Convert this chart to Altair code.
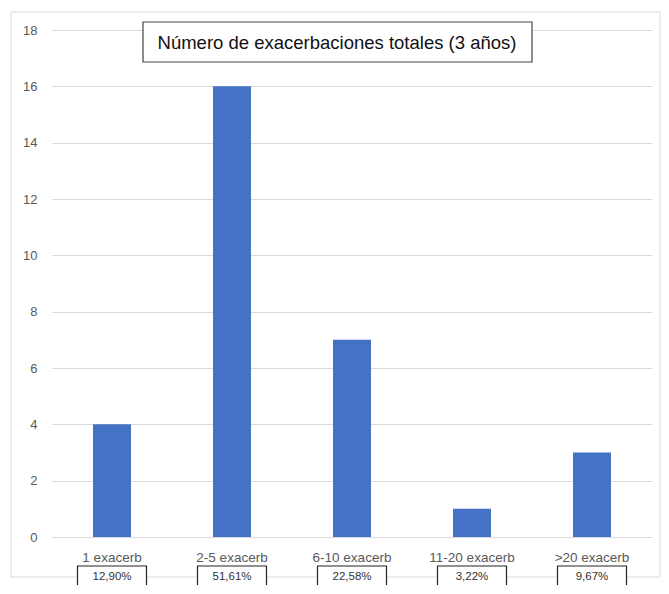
import altair as alt
import pandas as pd

categories = ["1 exacerb", "2-5 exacerb", "6-10 exacerb", "11-20 exacerb", ">20 exacerb"]
counts = [4, 16, 7, 1, 3]
percents = ["12,90%", "51,61%", "22,58%", "3,22%", "9,67%"]
title_text = "Número de exacerbaciones totales (3 años)"

df = pd.DataFrame({"cat": categories, "n": counts, "pct": percents})

FONT = "Liberation Sans"
GREY = "#595959"

x_axis = alt.Axis(labelAngle=0, ticks=False, domain=False, labelPadding=13,
                  labelFontSize=13.5, labelColor=GREY, labelFont=FONT, grid=False,
                  gridOpacity=0)
xenc = alt.X("cat:N", sort=categories, title=None,
             scale=alt.Scale(paddingInner=0, paddingOuter=0), axis=x_axis)

frame = alt.Chart(pd.DataFrame({"a": [0]})).mark_rect(
    filled=False, stroke="#d9d9d9", strokeWidth=1, clip=False
).encode(x=alt.value(-41), x2=alt.value(608), y=alt.value(-18), y2=alt.value(547))

bars = alt.Chart(df).mark_bar(size=38, color="#4472C4").encode(
    x=xenc,
    y=alt.Y("n:Q", title=None,
            scale=alt.Scale(domain=[0, 18]),
            axis=alt.Axis(values=list(range(0, 19, 2)), ticks=False, domain=False,
                          labelPadding=15, labelFontSize=13, labelColor=GREY,
                          labelFont=FONT, gridColor="#d9d9d9", gridWidth=1)),
)

boxes = alt.Chart(df).mark_bar(size=69, fill="white", stroke="#222222", strokeWidth=1.2,
                               clip=False).encode(
    x=xenc,
    y=alt.value(536), y2=alt.value(580),
)
box_text = alt.Chart(df).mark_text(font=FONT, fontSize=11.5, color="#333333",
                                   baseline="middle").encode(
    x=xenc,
    y=alt.value(547),
    text="pct:N",
)

title_box = alt.Chart(pd.DataFrame({"a": [0]})).mark_rect(
    fill="white", stroke="#444444", strokeWidth=1.2, clip=False
).encode(x=alt.value(91), x2=alt.value(480), y=alt.value(-8), y2=alt.value(32))
title_mark = alt.Chart(pd.DataFrame({"t": [title_text]})).mark_text(
    font=FONT, fontSize=18.5, color="#111111"
).encode(x=alt.value(285), y=alt.value(13), text="t:N")

chart = alt.layer(frame, bars, boxes, box_text, title_box, title_mark).properties(
    width=600, height=507,
    autosize=alt.AutoSizeParams(type="none"),
    padding={"left": 44, "top": 22, "right": 9, "bottom": 48},
).configure(background="white").configure_view(stroke=None).configure_axisX(
    grid=False).configure_axisBand(grid=False)

chart.save("out.html", embed_options={"renderer": "svg", "actions": False})
